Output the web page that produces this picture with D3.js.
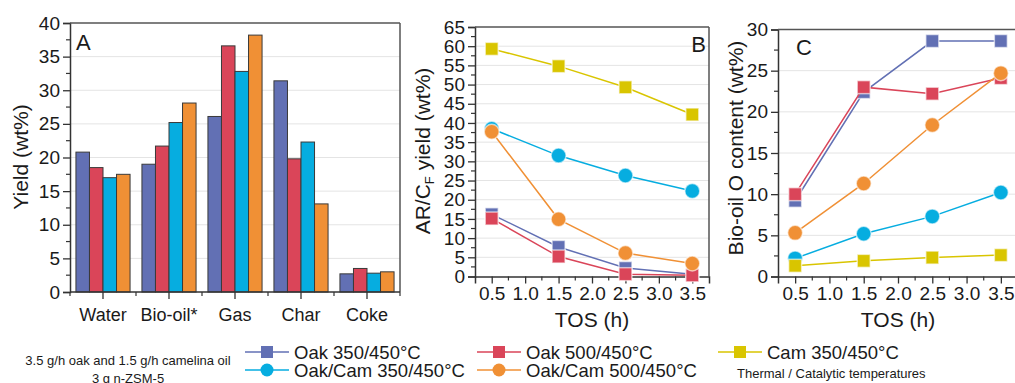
<!DOCTYPE html>
<html>
<head>
<meta charset="utf-8">
<script src="https://cdn.jsdelivr.net/npm/d3@7"></script>
<style>
  body { margin: 0; background: #fff; overflow: hidden; }
  text { font-family: "Liberation Sans", Arial, sans-serif; fill: #1a1a1a; }
</style>
</head>
<body>
<script>
// ---- data ----
const categories = ["Water", "Bio-oil*", "Gas", "Char", "Coke"];
const seriesNames = ["Oak 350/450°C", "Oak 500/450°C", "Oak/Cam 350/450°C", "Oak/Cam 500/450°C", "Cam 350/450°C"];
const seriesColors = ["#6270b4", "#da4559", "#06ade0", "#f09035", "#d9c500"];
const seriesShapes = ["square", "square", "circle", "circle", "square"];

// panel A yields (wt%), one array per series (Oak350, Oak500, OakCam350, OakCam500)
const yieldOak350 = [20.8, 19.0, 26.1, 31.4, 2.7];
const yieldOak500 = [18.5, 21.7, 36.6, 19.8, 3.5];
const yieldOakCam350 = [17.0, 25.2, 32.8, 22.3, 2.8];
const yieldOakCam500 = [17.5, 28.1, 38.2, 13.1, 3.0];

const tos = [0.5, 1.5, 2.5, 3.5];

// panel B: AR/CF yield (wt%)
const arOak350 = [16.2, 7.7, 2.2, 0.6];
const arOak500 = [15.1, 5.2, 0.6, 0.3];
const arOakCam350 = [38.5, 31.5, 26.3, 22.3];
const arOakCam500 = [37.7, 14.9, 6.1, 3.4];
const arCam350 = [59.3, 54.8, 49.3, 42.2];

// panel C: bio-oil O content (wt%)
const oOak350 = [9.2, 22.4, 28.6, 28.6];
const oOak500 = [10.0, 23.0, 22.2, 24.1];
const oOakCam350 = [2.2, 5.2, 7.3, 10.2];
const oOakCam500 = [5.3, 11.3, 18.4, 24.7];
const oCam350 = [1.3, 1.9, 2.3, 2.6];

const xTicks = [0.5, 1.0, 1.5, 2.0, 2.5, 3.0, 3.5];

// ---- drawing ----
const svg = d3.select("body").append("svg")
    .attr("width", 1015)
    .attr("height", 383);

const axisColor = "#333";
const gridColor = "#e4e4e4";
const tickFont = "19px";

function drawFrame(g, x0, x1, y0, y1) {
    g.append("line").attr("x1", x0).attr("x2", x1).attr("y1", y0).attr("y2", y0)
        .attr("stroke", "#555").attr("stroke-width", 1.5);
    g.append("line").attr("x1", x1).attr("x2", x1).attr("y1", y0).attr("y2", y1)
        .attr("stroke", "#555").attr("stroke-width", 1.5);
}

function drawYAxis(g, yScale, x0, x1, maxV) {
    const major = d3.range(0, maxV + 0.01, 5);
    const minor = d3.range(2.5, maxV, 5);
    // grid
    g.selectAll("line.grid").data(major.filter(v => v > 0 && v < maxV)).enter().append("line")
        .attr("class", "grid")
        .attr("x1", x0).attr("x2", x1)
        .attr("y1", d => yScale(d)).attr("y2", d => yScale(d))
        .attr("stroke", gridColor).attr("stroke-width", 1);
    const axis = d3.axisLeft(yScale).tickValues(major).tickSize(7).tickPadding(3).tickFormat(d3.format("d"));
    const ax = g.append("g").attr("transform", "translate(" + x0 + ",0)").call(axis);
    ax.select(".domain").attr("stroke", axisColor).attr("stroke-width", 1.5);
    ax.selectAll(".tick line").attr("stroke", axisColor).attr("stroke-width", 1.3);
    ax.selectAll("text").style("font-size", tickFont).attr("fill", "#1a1a1a")
        .style("font-family", '"Liberation Sans", Arial, sans-serif');
    g.selectAll("line.minor").data(minor).enter().append("line")
        .attr("x1", x0 - 4).attr("x2", x0)
        .attr("y1", d => yScale(d)).attr("y2", d => yScale(d))
        .attr("stroke", axisColor).attr("stroke-width", 1.2);
}

function yTitle(g, x, y, parts) {
    const t = g.append("text")
        .attr("transform", "translate(" + x + "," + y + ") rotate(-90)")
        .attr("text-anchor", "middle")
        .style("font-size", "21px");
    parts.forEach(p => {
        const s = t.append("tspan").text(p.text);
        if (p.sub) s.style("font-size", "13px").attr("dy", 4);
        if (p.back) s.attr("dy", -4);
    });
}

// ---- Panel A ----
(function () {
    const left = 70, right = 400, top = 23, bottom = 292;
    const g = svg.append("g");
    const x = d3.scaleBand().domain(categories).range([left, right]);
    const y = d3.scaleLinear().domain([0, 40]).range([bottom, top]);

    drawYAxis(g, y, left, right, 40);
    drawFrame(g, left, right, top, bottom);

    const values = [yieldOak350, yieldOak500, yieldOakCam350, yieldOakCam500];
    const bars = [];
    categories.forEach((c, ci) => values.forEach((arr, si) => bars.push({c: c, s: si, v: arr[ci]})));
    const bw = x.bandwidth() * 0.82 / 4;
    const off = x.bandwidth() * 0.09;
    g.selectAll("rect.bar").data(bars).enter().append("rect")
        .attr("class", "bar")
        .attr("x", d => x(d.c) + off + d.s * bw)
        .attr("y", d => y(d.v))
        .attr("width", bw)
        .attr("height", d => y(0) - y(d.v))
        .attr("fill", d => seriesColors[d.s])
        .attr("stroke", "#3a3a3a").attr("stroke-width", 1);

    // bottom axis
    g.append("line").attr("x1", left).attr("x2", right).attr("y1", bottom).attr("y2", bottom)
        .attr("stroke", axisColor).attr("stroke-width", 1.5);
    categories.forEach(c => {
        g.append("line").attr("x1", x(c) + x.bandwidth() / 2).attr("x2", x(c) + x.bandwidth() / 2)
            .attr("y1", bottom).attr("y2", bottom + 7).attr("stroke", axisColor).attr("stroke-width", 1.3);
        g.append("line").attr("x1", x(c)).attr("x2", x(c))
            .attr("y1", bottom).attr("y2", bottom + 4).attr("stroke", axisColor).attr("stroke-width", 1.2);
        g.append("text").attr("x", x(c) + x.bandwidth() / 2).attr("y", 321)
            .attr("text-anchor", "middle").style("font-size", "18px").text(c);
    });
    g.append("line").attr("x1", right).attr("x2", right).attr("y1", bottom).attr("y2", bottom + 4)
        .attr("stroke", axisColor).attr("stroke-width", 1.2);

    g.append("text").attr("x", 76).attr("y", 50).style("font-size", "22px").text("A");
    yTitle(g, 28, 157, [{text: "Yield (wt%)"}]);
})();

// ---- line panels ----
function linePanel(opts, seriesData) {
    const {left, right, top, bottom, maxV} = opts;
    const g = svg.append("g");
    const x = d3.scaleLinear().domain([0.25, 3.75]).range([left, right]);
    const y = d3.scaleLinear().domain([0, maxV]).range([bottom, top]);

    drawYAxis(g, y, left, right, maxV);
    drawFrame(g, left, right, top, bottom);

    const xAxis = d3.axisBottom(x).tickValues(xTicks).tickSize(7).tickPadding(3).tickFormat(d3.format(".1f"));
    const ax = g.append("g").attr("transform", "translate(0," + bottom + ")").call(xAxis);
    ax.select(".domain").attr("stroke", axisColor).attr("stroke-width", 1.5);
    ax.selectAll(".tick line").attr("stroke", axisColor).attr("stroke-width", 1.3);
    ax.selectAll("text").style("font-size", tickFont).attr("fill", "#1a1a1a")
        .style("font-family", '"Liberation Sans", Arial, sans-serif');
    g.selectAll("line.xminor").data(d3.range(0.75, 3.5, 0.5)).enter().append("line")
        .attr("x1", d => x(d)).attr("x2", d => x(d))
        .attr("y1", bottom).attr("y2", bottom + 4)
        .attr("stroke", axisColor).attr("stroke-width", 1.2);

    const line = d3.line().x((d, i) => x(tos[i])).y(d => y(d));
    seriesData.forEach(sd => {
        const col = seriesColors[sd.s];
        g.append("path").datum(sd.v).attr("d", line)
            .attr("fill", "none").attr("stroke", col).attr("stroke-width", 1.5);
        sd.v.forEach((v, i) => {
            if (seriesShapes[sd.s] === "square") {
                g.append("rect").attr("x", x(tos[i]) - 6.5).attr("y", y(v) - 6.5)
                    .attr("width", 13).attr("height", 13)
                    .attr("fill", col).attr("stroke", "#fff").attr("stroke-opacity", 0.6).attr("stroke-width", 1.5);
            } else {
                g.append("circle").attr("cx", x(tos[i])).attr("cy", y(v)).attr("r", 7.5)
                    .attr("fill", col).attr("stroke", "#fff").attr("stroke-opacity", 0.6).attr("stroke-width", 1.5);
            }
        });
    });

    g.append("text").attr("x", (left + right) / 2).attr("y", 327)
        .attr("text-anchor", "middle").style("font-size", "21px").text("TOS (h)");
    return g;
}

const gB = linePanel({left: 475, right: 709, top: 27, bottom: 276.5, maxV: 65}, [
    {s: 0, v: arOak350}, {s: 1, v: arOak500}, {s: 4, v: arCam350},
    {s: 2, v: arOakCam350}, {s: 3, v: arOakCam500}
]);
gB.append("text").attr("x", 706).attr("y", 52).attr("text-anchor", "end").style("font-size", "22px").text("B");
yTitle(gB, 430, 151, [{text: "AR/C"}, {text: "F", sub: true}, {text: " yield (wt%)", back: true}]);

const gC = linePanel({left: 778, right: 1018, top: 29.5, bottom: 276.5, maxV: 30}, [
    {s: 0, v: oOak350}, {s: 1, v: oOak500}, {s: 2, v: oOakCam350},
    {s: 3, v: oOakCam500}, {s: 4, v: oCam350}
]);
gC.append("text").attr("x", 796).attr("y", 55).style("font-size", "22px").text("C");
yTitle(gC, 743, 148, [{text: "Bio-oil O content (wt%)"}]);

// ---- legend ----
const legendPos = [
    {s: 0, x: 245, y: 352}, {s: 1, x: 477, y: 352}, {s: 4, x: 718, y: 352},
    {s: 2, x: 245, y: 370}, {s: 3, x: 477, y: 370}
];
const lg = svg.append("g");
legendPos.forEach(p => {
    const col = seriesColors[p.s];
    lg.append("line").attr("x1", p.x).attr("x2", p.x + 44).attr("y1", p.y).attr("y2", p.y)
        .attr("stroke", col).attr("stroke-width", 1.5);
    if (seriesShapes[p.s] === "square") {
        lg.append("rect").attr("x", p.x + 22 - 6).attr("y", p.y - 6).attr("width", 12).attr("height", 12).attr("fill", col);
    } else {
        lg.append("circle").attr("cx", p.x + 22).attr("cy", p.y).attr("r", 6.5).attr("fill", col);
    }
    lg.append("text").attr("x", p.x + 49).attr("y", p.y + 7).style("font-size", "18.5px").text(seriesNames[p.s]);
});
lg.append("text").attr("x", 128).attr("y", 365).attr("text-anchor", "middle").style("font-size", "13px")
    .text("3.5 g/h oak and 1.5 g/h camelina oil");
lg.append("text").attr("x", 128).attr("y", 383).attr("text-anchor", "middle").style("font-size", "13px")
    .text("3 g n-ZSM-5");
lg.append("text").attr("x", 737).attr("y", 378).style("font-size", "13px")
    .text("Thermal / Catalytic temperatures");
</script>
</body>
</html>
